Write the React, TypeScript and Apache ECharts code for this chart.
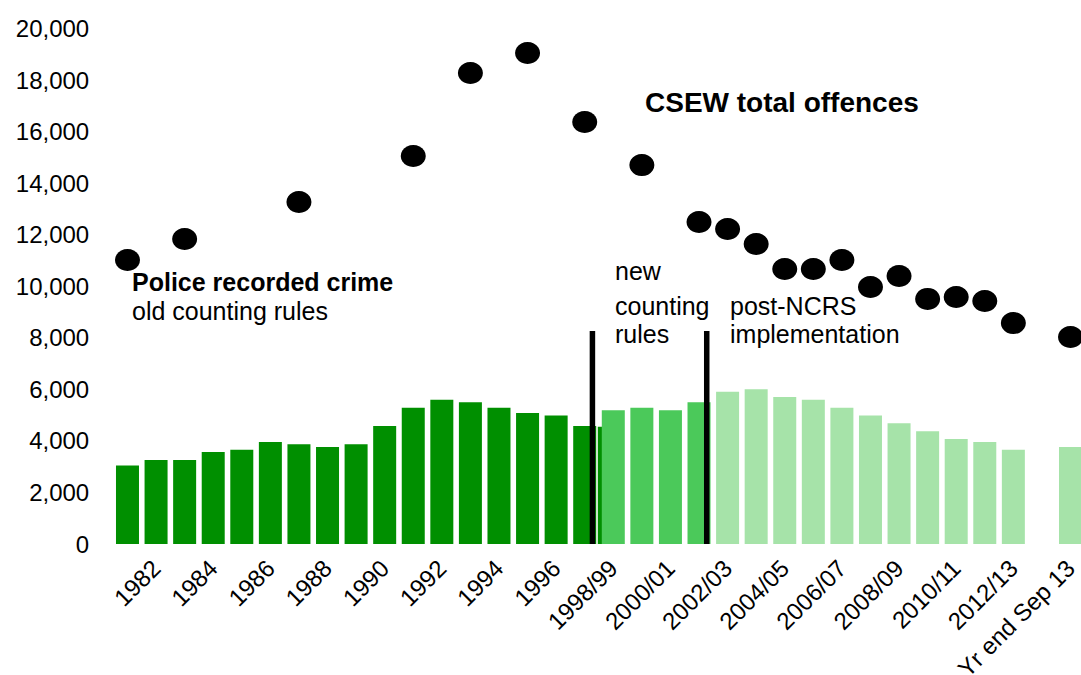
import React, { useEffect, useRef } from "react";
import * as echarts from "echarts";

const categories = [
  "1981", "1982", "1983", "1984", "1985", "1986", "1987", "1988", "1989", "1990",
  "1991", "1992", "1993", "1994", "1995", "1996", "1997",
  "1998/99", "1999/00", "2000/01", "2001/02", "2002/03", "2003/04", "2004/05",
  "2005/06", "2006/07", "2007/08", "2008/09", "2009/10", "2010/11", "2011/12",
  "2012/13", "", "Yr end Sep 13",
];

const N = null;
// Police recorded crime, old counting rules (thousands)
const oldRules = [
  3050, 3260, 3260, 3570, 3660, 3960, 3870, 3760, 3870, 4580,
  5290, 5600, 5500, 5290, 5080, 4990, 4580,
  N, N, N, N, N, N, N, N, N, N, N, N, N, N, N, N, N,
];
// 1998/99 under old counting rules (partly hidden behind the new-rules bar)
const oldRulesOverlap = [[17, 4550]];
// new counting rules
const newRules = [
  N, N, N, N, N, N, N, N, N, N, N, N, N, N, N, N, N,
  5190, 5290, 5190, 5500,
  N, N, N, N, N, N, N, N, N, N, N, N, N,
];
// post-NCRS implementation
const postNCRS = [
  N, N, N, N, N, N, N, N, N, N, N, N, N, N, N, N, N, N, N, N, N,
  5910, 6000, 5700, 5600, 5290, 4990, 4680, 4370, 4070, 3960, 3660, N, 3760,
];
// CSEW total offences
const csew = [
  11020, N, 11830, N, N, N, 13270, N, N, N, 15050, N, 18270, N, 19050, N, 16370,
  N, 14700, N, 12490, 12220, 11640, 10670, 10670, 11020, 9970, 10400, 9510,
  9580, 9430, 8570, N, 8030,
];
// vertical dividers (category index, top value)
const dividers = [[16, 8260], [20, 8260]];

const yTicks = { min: 0, max: 20000, interval: 2000 };

const FONT = "'Liberation Sans', Arial, sans-serif";

export default function App() {
  const ref = useRef<HTMLDivElement>(null);

  useEffect(() => {
    if (!ref.current) return;
    const chart = echarts.init(ref.current, null, { renderer: "svg" });

    const csewPoints = csew
      .map((v, i) => (v == null ? null : [i, v]))
      .filter((p) => p !== null);

    const option: any = {
      animation: false,
      backgroundColor: "#ffffff",
      textStyle: { fontFamily: FONT },
      grid: {
        left: 113.2,
        right: 1100 - 1084.8,
        top: 28.5,
        bottom: 131,
        containLabel: false,
        outerBoundsMode: "none",
      },
      xAxis: {
        type: "category",
        data: categories,
        axisLine: { show: false },
        axisTick: { show: false },
        splitLine: { show: false },
        axisLabel: {
          rotate: 45,
          interval: (index: number) => index % 2 === 1,
          margin: 20,
          fontSize: 24,
          color: "#000",
          fontFamily: FONT,
        },
      },
      yAxis: {
        type: "value",
        min: yTicks.min,
        max: yTicks.max,
        interval: yTicks.interval,
        axisLine: { show: false },
        axisTick: { show: false },
        splitLine: { show: false },
        axisLabel: {
          margin: 24,
          fontSize: 24,
          color: "#000",
          fontFamily: FONT,
          formatter: (v: number) => v.toLocaleString("en-US"),
        },
      },
      series: [
        {
          type: "custom",
          name: "old rules 1998/99",
          z: 1,
          data: oldRulesOverlap,
          renderItem: (params: any, api: any) => {
            const base = api.coord([api.value(0), 0]);
            const top = api.coord([api.value(0), api.value(1)]);
            const band = api.size([1, 0])[0];
            const w = band * 0.805;
            const cx = base[0] - band * 0.14;
            return {
              type: "rect",
              shape: { x: cx - w / 2, y: top[1], width: w, height: base[1] - top[1] },
              style: { fill: "#008F00" },
            };
          },
        },
        {
          type: "bar",
          name: "old counting rules",
          data: oldRules,
          itemStyle: { color: "#008F00" },
          barGap: "-100%",
          barCategoryGap: "19.5%",
        },
        {
          type: "bar",
          name: "new counting rules",
          data: newRules,
          itemStyle: { color: "#4BC95A" },
          barGap: "-100%",
          barCategoryGap: "19.5%",
        },
        {
          type: "bar",
          name: "post-NCRS implementation",
          data: postNCRS,
          itemStyle: { color: "#A6E3A9" },
          barGap: "-100%",
          barCategoryGap: "19.5%",
        },
        {
          type: "custom",
          name: "dividers",
          z: 5,
          data: dividers,
          renderItem: (params: any, api: any) => {
            const base = api.coord([api.value(0), 0]);
            const top = api.coord([api.value(0), api.value(1)]);
            const band = api.size([1, 0])[0];
            const cx = base[0] + band * 0.27;
            return {
              type: "rect",
              shape: { x: cx - 2.75, y: top[1], width: 5.5, height: base[1] - top[1] },
              style: { fill: "#000" },
            };
          },
        },
        {
          type: "scatter",
          name: "CSEW total offences",
          z: 6,
          data: csewPoints,
          symbol: "circle",
          symbolSize: [25, 22],
          itemStyle: { color: "#000", opacity: 1 },
        },
      ],
      graphic: [
        {
          type: "text",
          x: 645,
          y: 102,
          style: {
            text: "CSEW total offences",
            font: `bold 28px ${FONT}`,
            fill: "#000",
            textAlign: "left",
            textVerticalAlign: "middle",
          },
        },
        {
          type: "text",
          x: 132,
          y: 282,
          style: {
            text: "Police recorded crime",
            font: `bold 25px ${FONT}`,
            fill: "#000",
            textAlign: "left",
            textVerticalAlign: "middle",
          },
        },
        {
          type: "text",
          x: 132,
          y: 311,
          style: {
            text: "old counting rules",
            font: `25px ${FONT}`,
            fill: "#000",
            textAlign: "left",
            textVerticalAlign: "middle",
          },
        },
        {
          type: "text",
          x: 615,
          y: 271,
          style: { text: "new", font: `25px ${FONT}`, fill: "#000", textAlign: "left", textVerticalAlign: "middle" },
        },
        {
          type: "text",
          x: 615,
          y: 306,
          style: { text: "counting", font: `25px ${FONT}`, fill: "#000", textAlign: "left", textVerticalAlign: "middle" },
        },
        {
          type: "text",
          x: 615,
          y: 334,
          style: { text: "rules", font: `25px ${FONT}`, fill: "#000", textAlign: "left", textVerticalAlign: "middle" },
        },
        {
          type: "text",
          x: 730,
          y: 306,
          style: { text: "post-NCRS", font: `25px ${FONT}`, fill: "#000", textAlign: "left", textVerticalAlign: "middle" },
        },
        {
          type: "text",
          x: 730,
          y: 334,
          style: { text: "implementation", font: `25px ${FONT}`, fill: "#000", textAlign: "left", textVerticalAlign: "middle" },
        },
      ],
    };

    chart.setOption(option);
    return () => chart.dispose();
  }, []);

  return (
    <div
      style={{
        position: "fixed",
        left: 0,
        top: 0,
        width: 1081,
        height: 675,
        overflow: "hidden",
        background: "#fff",
      }}
    >
      <div ref={ref} style={{ width: 1100, height: 675 }} />
    </div>
  );
}
